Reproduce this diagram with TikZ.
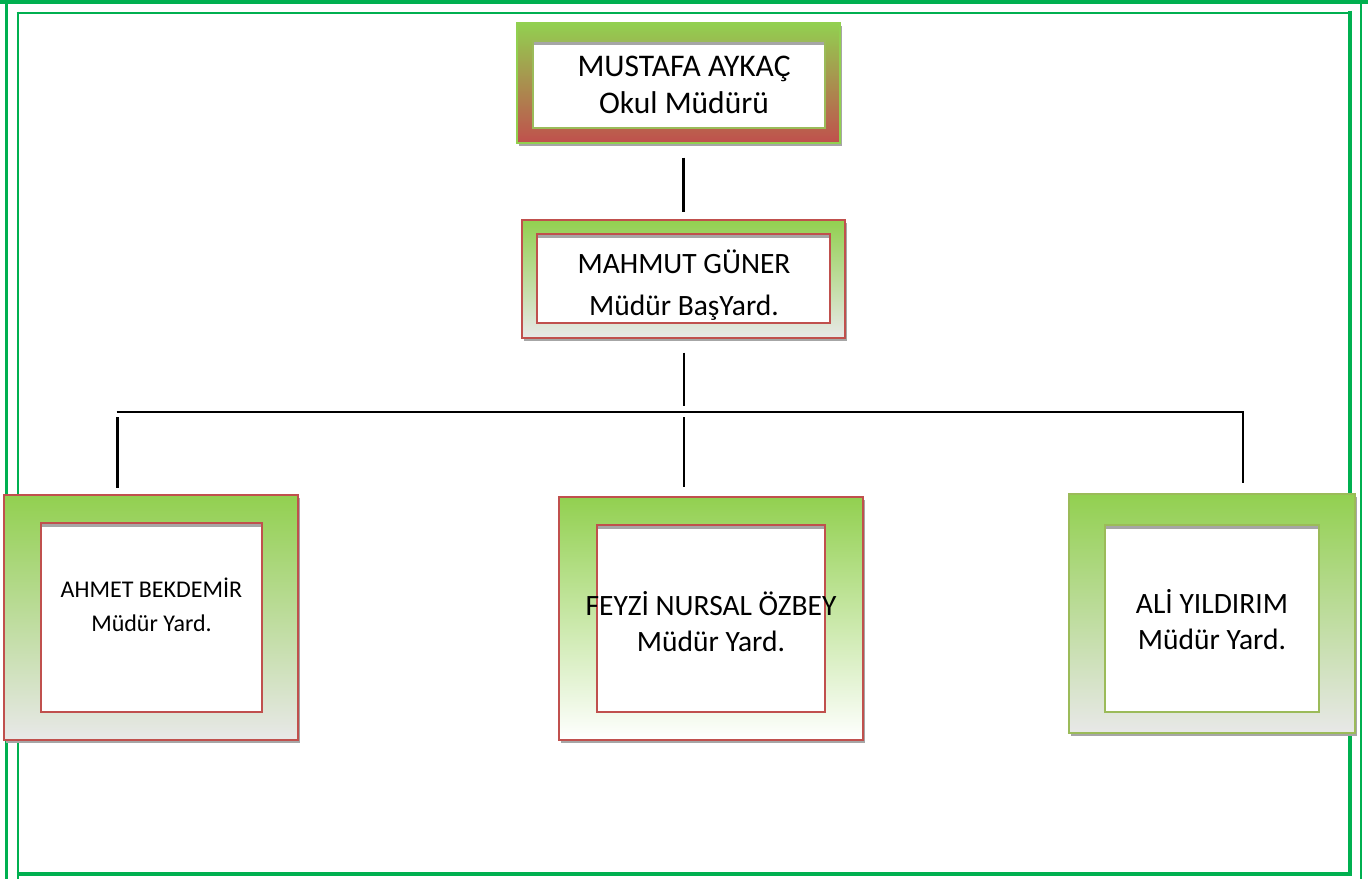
\documentclass[tikz,border=0pt]{standalone}
\usepackage{fontspec}
\setmainfont{Carlito}
\usetikzlibrary{shadows}
\definecolor{gfill}{HTML}{92D050}
\definecolor{rfill}{HTML}{C0504D}
\definecolor{lgray}{HTML}{E8E8E8}
\definecolor{gline}{HTML}{9BBB59}
\definecolor{frameg}{HTML}{00B050}
\tikzset{
  outerbox/.style={draw, line width=1.4pt, inner sep=0pt,
    drop shadow={shadow xshift=2pt, shadow yshift=-3pt, fill=black!35, opacity=1}},
  innerbox/.style={draw, fill=white, line width=1.4pt, inner sep=0pt,
    path picture={\fill[black!35] (path picture bounding box.north west) rectangle ([yshift=-4pt]path picture bounding box.north east);}},
  conn/.style={line width=2.2pt, black},
  busline/.style={line width=1.8pt, black},
  txt/.style={align=center, inner sep=0pt, text=black}
}
\begin{document}
\begin{tikzpicture}[x=1pt,y=-1pt]
\useasboundingbox (0,0) rectangle (1368,879);
% page frame
\draw[frameg, line width=3.5pt] (0,1.75) -- (1368,1.75);
\draw[frameg, line width=3.5pt] (6.5,0) -- (6.5,879);
\draw[frameg, line width=2pt] (1361,0) -- (1361,879);
\draw[frameg, line width=2pt] (16.5,12.5) -- (1352,12.5);
\draw[frameg, line width=2pt] (17.5,11.5) -- (17.5,879);
\draw[frameg, line width=4pt] (1350,10.5) -- (1350,875.5);
\draw[frameg, line width=4pt] (16.5,873.5) -- (1352,873.5);

% boxes
\node[outerbox, draw=gfill, top color=gfill, bottom color=rfill, minimum width=323pt, minimum height=120pt] (mus) at (678.5,83) {};
\node[innerbox, draw=gline, minimum width=292pt, minimum height=87pt] (musin) at (679,84.5) {};
\node[txt, font=\fontsize{31.5}{37}\selectfont] (mustxt) at (684,85) {MUSTAFA AYKAÇ\\Okul Müdürü};

\node[outerbox, draw=rfill, top color=gfill, bottom color=lgray, minimum width=323pt, minimum height=118pt] (mah) at (683.5,279) {};
\node[innerbox, draw=rfill, minimum width=293pt, minimum height=89pt] (mahin) at (683.5,278.5) {};
\node[txt, font=\fontsize{29.5}{42}\selectfont] (mahtxt) at (684,285) {MAHMUT GÜNER\\Müdür BaşYard.};

\node[outerbox, draw=rfill, top color=gfill, bottom color=lgray, minimum width=294pt, minimum height=245pt] (ahm) at (151,617.5) {};
\node[innerbox, draw=rfill, minimum width=221pt, minimum height=189pt] (ahmin) at (151.5,617.5) {};
\node[txt, font=\fontsize{24}{34}\selectfont] (ahmtxt) at (151.5,605) {AHMET BEKDEMİR\\Müdür Yard.};

\node[outerbox, draw=rfill, top color=gfill, bottom color=white, minimum width=304pt, minimum height=243pt] (fey) at (711,618.5) {};
\node[innerbox, draw=rfill, minimum width=228pt, minimum height=187pt] (feyin) at (711,618.5) {};
\node[txt, font=\fontsize{29.5}{36}\selectfont] (feytxt) at (711,622) {FEYZİ NURSAL ÖZBEY\\Müdür Yard.};

\node[outerbox, draw=gline, top color=gfill, bottom color=lgray, minimum width=286pt, minimum height=239pt] (ali) at (1212,613.5) {};
\node[innerbox, draw=gline, minimum width=214pt, minimum height=187pt] (aliin) at (1212,618.5) {};
\node[txt, font=\fontsize{29.5}{36}\selectfont] (alitxt) at (1212,620) {ALİ YILDIRIM\\Müdür Yard.};

% connectors
\coordinate (busL) at (117.5,412);
\coordinate (busM) at (684,412);
\coordinate (busR) at (1243,412);
\draw[conn, shorten <=14pt, shorten >=7pt] (mus.south -| mah.north) -- (mah.north);
\draw[conn, shorten <=14pt, shorten >=6pt] (mah.south -| busM) -- (busM);
\draw[busline] ([xshift=-1pt]busL) -- ([xshift=1pt]busR);
\draw[conn, shorten <=5pt, shorten >=6pt] (busL) -- (ahm.north -| busL);
\draw[conn, shorten <=5pt, shorten >=9pt] (busM) -- (fey.north -| busM);
\draw[conn, shorten >=10pt] (busR) -- (ali.north -| busR);
\end{tikzpicture}
\end{document}
